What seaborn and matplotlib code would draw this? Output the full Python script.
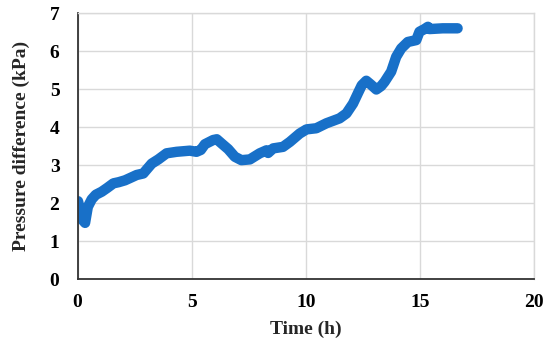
import matplotlib
matplotlib.use("Agg")
import matplotlib.pyplot as plt
import seaborn as sns
import pandas as pd

time_h = [0.02, 0.12, 0.23, 0.33, 0.45, 0.62, 0.8, 1.06, 1.3, 1.57, 1.8, 2.08, 2.3, 2.59, 2.88,
          3.05, 3.25, 3.54, 3.9, 4.34, 4.92, 5.21, 5.4, 5.58, 5.94, 6.1, 6.31, 6.6, 6.89, 7.18,
          7.55, 7.98, 8.28, 8.35, 8.57, 9.0, 9.3, 9.73, 10.03, 10.46, 10.9, 11.48, 11.78,
          12.07, 12.29, 12.45, 12.65, 12.85, 13.09, 13.3, 13.45, 13.74, 13.96, 14.18, 14.47,
          14.84, 14.98, 15.2, 15.35, 15.42, 16.0, 16.65]
pressure_kpa = [2.05, 1.8, 1.55, 1.48, 1.9, 2.1, 2.22, 2.30, 2.40, 2.52, 2.55, 2.60, 2.66, 2.74, 2.78,
                2.9, 3.04, 3.15, 3.31, 3.35, 3.38, 3.35, 3.40, 3.55, 3.66, 3.68, 3.57, 3.42, 3.22, 3.13,
                3.15, 3.31, 3.39, 3.32, 3.44, 3.48, 3.61, 3.83, 3.94, 3.97, 4.10, 4.23, 4.36,
                4.62, 4.90, 5.10, 5.22, 5.12, 4.99, 5.08, 5.19, 5.46, 5.85, 6.07, 6.24,
                6.29, 6.51, 6.58, 6.64, 6.58, 6.60, 6.60]

df = pd.DataFrame({"Time (h)": time_h, "Pressure difference (kPa)": pressure_kpa})

sns.set_theme(style="white")
plt.rcParams["font.family"] = ["Liberation Serif", "DejaVu Serif"]
plt.rcParams["font.weight"] = "bold"

fig = plt.figure(figsize=(5.5, 3.45), dpi=100)
ax = fig.add_axes([0.141, 0.191, 0.830, 0.771])

sns.lineplot(data=df, x="Time (h)", y="Pressure difference (kPa)", ax=ax, sort=False,
             color="#1870C8", linewidth=7.5, solid_capstyle="round", solid_joinstyle="round")

ax.set_xlim(0, 20)
ax.set_ylim(0, 7)
ax.set_xticks([0, 5, 10, 15, 20])
ax.set_yticks(range(0, 8))
ax.grid(True, color="#d9d9d9", linewidth=1.0)
ax.set_axisbelow(True)

for s in ["top", "right"]:
    ax.spines[s].set_color("#d9d9d9")
    ax.spines[s].set_linewidth(1.0)
for s in ["left", "bottom"]:
    ax.spines[s].set_color("#333333")
    ax.spines[s].set_linewidth(1.3)

ax.tick_params(axis="both", direction="in", length=5, width=1.0, color="#333333",
               labelsize=14, labelcolor="black")
ax.tick_params(axis="x", pad=11)
ax.tick_params(axis="y", pad=13)
for lab in ax.get_xticklabels() + ax.get_yticklabels():
    lab.set_fontweight("bold")

ax.set_xlabel("Time (h)", fontsize=14, fontweight="bold", labelpad=7)
ax.set_ylabel("Pressure difference (kPa)", fontsize=14, fontweight="bold", labelpad=14)

fig.savefig("out.png", dpi=100)
